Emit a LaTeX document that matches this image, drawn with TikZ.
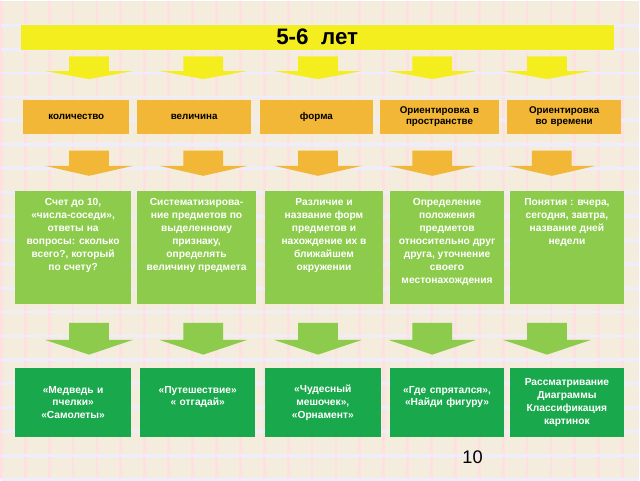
\documentclass[tikz,border=0pt]{standalone}
\usepackage{fontspec}
\setmainfont{Liberation Sans}
\usetikzlibrary{positioning}
\definecolor{bgcream}{HTML}{F4ECDC}
\definecolor{titleyellow}{HTML}{F5EE1E}
\definecolor{topicorange}{HTML}{F2B736}
\definecolor{lightgreen}{HTML}{8CCB4C}
\definecolor{darkgreen}{HTML}{1AA84C}
\tikzset{
	topic/.style={
			fill=topicorange,
			minimum height=0.85cm,
			inner xsep=1pt,
			text width=2.6cm,
			align=center,
			font=\fontsize{7}{8}\selectfont\bfseries
		},
	skill/.style={
			fill=lightgreen,
			inner xsep=1pt,
			inner ysep=0.2cm,
			anchor=north,
			text=white,
			font=\fontsize{7.3}{9.2}\selectfont\bfseries
		},
	game/.style={
			fill=darkgreen,
			minimum height=1.75cm,
			inner xsep=1pt,
			align=center,
			text=white,
			font=\fontsize{7.3}{9.2}\selectfont\bfseries
		}
}
% block arrow: x, top, head start, tip, colour
\newcommand{\blockarrow}[5]{
	\fill[#5] (#1-0.5,#2) -- (#1+0.5,#2) -- (#1+0.5,#3) -- (#1+1.1,#3) -- (#1,#4) -- (#1-1.1,#3) -- (#1-0.5,#3) -- cycle;
}
% top aligned text of a skill box: width, text
\newcommand{\skilltext}[2]{\parbox[t][2.43cm][t]{#1}{\centering #2}}

\begin{document}
\begin{tikzpicture}
			\fill[bgcream] (0,0) rectangle (16,12);
			\foreach \i in {0,0.6,...,16} {
					\draw[red!12, line width=2pt] (\i,0) -- (\i,12);
				}
			\foreach \j in {0,0.6,...,12} {
					\draw[blue!7, line width=2pt] (0,\j) -- (16,\j);
				}
			\useasboundingbox (0,0) rectangle (16,12);

			\node[fill=titleyellow, minimum width=14.9cm, minimum height=0.6cm, font=\fontsize{16}{18}\selectfont\bfseries] at (7.93,11.1) (title) {5-6~~лет};

			\node[topic, text width=2.6cm] at (1.88,9.1) (count) {количество};
			\node[topic, text width=2.78cm] at (4.84,9.1) (size) {величина};
			\node[topic, text width=2.78cm] at (7.91,9.1) (shape) {форма};
			\node[topic, text width=2.93cm] at (11.0,9.1) (space) {Ориентировка в пространстве};
			\node[topic, text width=2.8cm] at (14.13,9.1) (time) {Ориентировка во времени};

			\blockarrow{2.2}{10.62}{10.25}{10.05}{titleyellow}
			\blockarrow{5.07}{10.62}{10.25}{10.05}{titleyellow}
			\blockarrow{7.95}{10.62}{10.25}{10.05}{titleyellow}
			\blockarrow{10.82}{10.62}{10.25}{10.05}{titleyellow}
			\blockarrow{13.7}{10.62}{10.25}{10.05}{titleyellow}

			\blockarrow{2.2}{8.25}{7.87}{7.62}{topicorange}
			\blockarrow{5.07}{8.25}{7.87}{7.62}{topicorange}
			\blockarrow{7.95}{8.25}{7.87}{7.62}{topicorange}
			\blockarrow{10.82}{8.25}{7.87}{7.62}{topicorange}
			\blockarrow{13.82}{8.25}{7.87}{7.62}{topicorange}

			\node[skill] at (1.8,7.25) (countskill) {\skilltext{2.83cm}{Счет до 10,\\«числа-соседи»,\\ответы на\\вопросы: сколько\\всего?, который\\по счету?}};
			\node[skill] at (4.9,7.25) (sizeskill) {\skilltext{2.9cm}{Систематизирова-\\ние предметов по\\выделенному\\признаку,\\определять\\величину предмета}};
			\node[skill] at (8.1,7.25) (shapeskill) {\skilltext{2.9cm}{Различие и\\название форм\\предметов и\\нахождение их в\\ближайшем\\окружении}};
			\node[skill] at (11.19,7.25) (spaceskill) {\skilltext{2.78cm}{Определение\\положения\\предметов\\относительно друг\\друга, уточнение\\своего\\местонахождения}};
			\node[skill] at (14.2,7.25) (timeskill) {\skilltext{2.8cm}{Понятия : вчера,\\сегодня, завтра,\\название дней\\недели}};

			\blockarrow{2.2}{3.93}{3.5}{3.13}{lightgreen}
			\blockarrow{5.07}{3.93}{3.5}{3.13}{lightgreen}
			\blockarrow{7.95}{3.93}{3.5}{3.13}{lightgreen}
			\blockarrow{10.82}{3.93}{3.5}{3.13}{lightgreen}
			\blockarrow{13.7}{3.93}{3.5}{3.13}{lightgreen}

			\node[game, text width=2.83cm] at (1.8,1.93) (countgame) {«Медведь и\\пчелки»\\«Самолеты»};
			\node[game, text width=2.83cm] at (4.93,1.93) (sizegame) {«Путешествие»\\« отгадай»\\\mbox{}};
			\node[game, text width=2.83cm] at (8.07,1.93) (shapegame) {«Чудесный\\мешочек»,\\«Орнамент»};
			\node[game, text width=2.78cm] at (11.19,1.93) (spacegame) {«Где спрятался»,\\«Найди фигуру»\\\mbox{}};
			\node[game, text width=2.8cm] at (14.2,1.93) (timegame) {Рассматривание\\Диаграммы\\Классификация\\картинок};

			\node[font=\fontsize{13}{15}\selectfont] at (11.83,0.55) (page) {10};
		\end{tikzpicture}
\end{document}
